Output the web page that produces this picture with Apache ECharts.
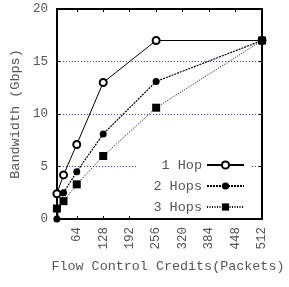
<!DOCTYPE html>
<html>
<head>
<meta charset="utf-8">
<script src="https://cdn.jsdelivr.net/npm/echarts@6/dist/echarts.min.js"></script>
<style>
  html, body { margin: 0; padding: 0; background: #fff; }
  #chart { width: 289px; height: 287px; }
</style>
</head>
<body>
<div id="chart"></div>
<script>
// flow control credits (packets)
let credits = [16, 32, 64, 128, 256, 512]
let xTickValues = [64, 128, 192, 256, 320, 384, 448, 512]
// bandwidth (Gbps)
let oneHop = [2.4, 4.2, 7.1, 13.0, 17.0, 17.0]
let twoHops = [0, 2.5, 4.5, 8.1, 13.1, 17.0]
let threeHops = [1.0, 1.7, 3.3, 6.0, 10.6, 17.0]
let seriesNames = ['1 Hop', '2 Hops', '3 Hops']

let fontName = 'Liberation Mono'
let textGray = '#555'

function toPairs(values) {
  return credits.map((c, i) => [c, values[i]])
}

let chart = echarts.init(document.getElementById('chart'), null, { renderer: 'canvas' })

let xBase = {
  type: 'value',
  min: 16,
  max: 512,
  axisLine: { show: true, onZero: false, lineStyle: { color: '#000', width: 2 } },
  axisTick: { show: true, inside: true, length: 3, customValues: xTickValues, lineStyle: { color: '#000', width: 1 } },
  splitLine: { show: false }
}
let yBase = {
  type: 'value',
  min: 0,
  max: 20,
  interval: 5,
  axisLine: { show: true, onZero: false, lineStyle: { color: '#000', width: 2 } },
  axisTick: { show: true, inside: true, length: 3, lineStyle: { color: '#000', width: 1 } }
}

let option = {
  animation: false,
  backgroundColor: '#fff',
  textStyle: { fontFamily: fontName },
  grid: { left: 45, right: 27, top: 9, bottom: 68 },
  xAxis: [
    Object.assign({}, xBase, {
      position: 'bottom',
      name: 'Flow Control Credits(Packets)',
      nameLocation: 'middle',
      nameGap: 41,
      nameTextStyle: { color: textGray, fontSize: 13.4, fontFamily: fontName, padding: [0, 0, 0, 17] },
      axisLabel: { show: true, rotate: 90, margin: 8, customValues: xTickValues, color: textGray, fontSize: 12.5, fontFamily: fontName }
    }),
    Object.assign({}, xBase, {
      position: 'top',
      axisLabel: { show: false }
    })
  ],
  yAxis: [
    Object.assign({}, yBase, {
      position: 'left',
      name: 'Bandwidth (Gbps)',
      nameLocation: 'middle',
      nameGap: 30,
      nameTextStyle: { color: textGray, fontSize: 13.5, fontFamily: fontName },
      axisLabel: { margin: 9, color: textGray, fontSize: 12.5, fontFamily: fontName },
      splitLine: { show: true, lineStyle: { color: '#2c2cff', width: 1, type: [1, 2] } }
    }),
    Object.assign({}, yBase, {
      position: 'right',
      axisLabel: { show: false },
      splitLine: { show: false }
    })
  ],
  legend: {
    orient: 'vertical',
    right: 37,
    top: 154,
    align: 'right',
    itemWidth: 37,
    itemHeight: 9,
    itemGap: 7,
    padding: [4, 7, 4, 17],
    backgroundColor: '#fff',
    data: seriesNames,
    formatter: name => name.padStart(6, ' '),
    textStyle: { color: textGray, fontSize: 13.5, fontFamily: fontName }
  },
  series: [{
    name: seriesNames[0],
    type: 'line',
    data: toPairs(oneHop),
    symbol: 'emptyCircle',
    symbolSize: 7,
    color: '#000',
    itemStyle: { color: '#000', borderWidth: 1 },
    lineStyle: { color: '#000', width: 1, type: 'solid' }
  }, {
    name: seriesNames[1],
    type: 'line',
    data: toPairs(twoHops),
    symbol: 'circle',
    symbolSize: 7,
    color: '#000',
    itemStyle: { color: '#000' },
    lineStyle: { color: '#000', width: 1.2, type: [2, 1] }
  }, {
    name: seriesNames[2],
    type: 'line',
    data: toPairs(threeHops),
    symbol: 'rect',
    symbolSize: 8,
    color: '#000',
    itemStyle: { color: '#000' },
    lineStyle: { color: '#000', width: 1, type: [1, 1.5] }
  }]
}

chart.setOption(option)
</script>
</body>
</html>
